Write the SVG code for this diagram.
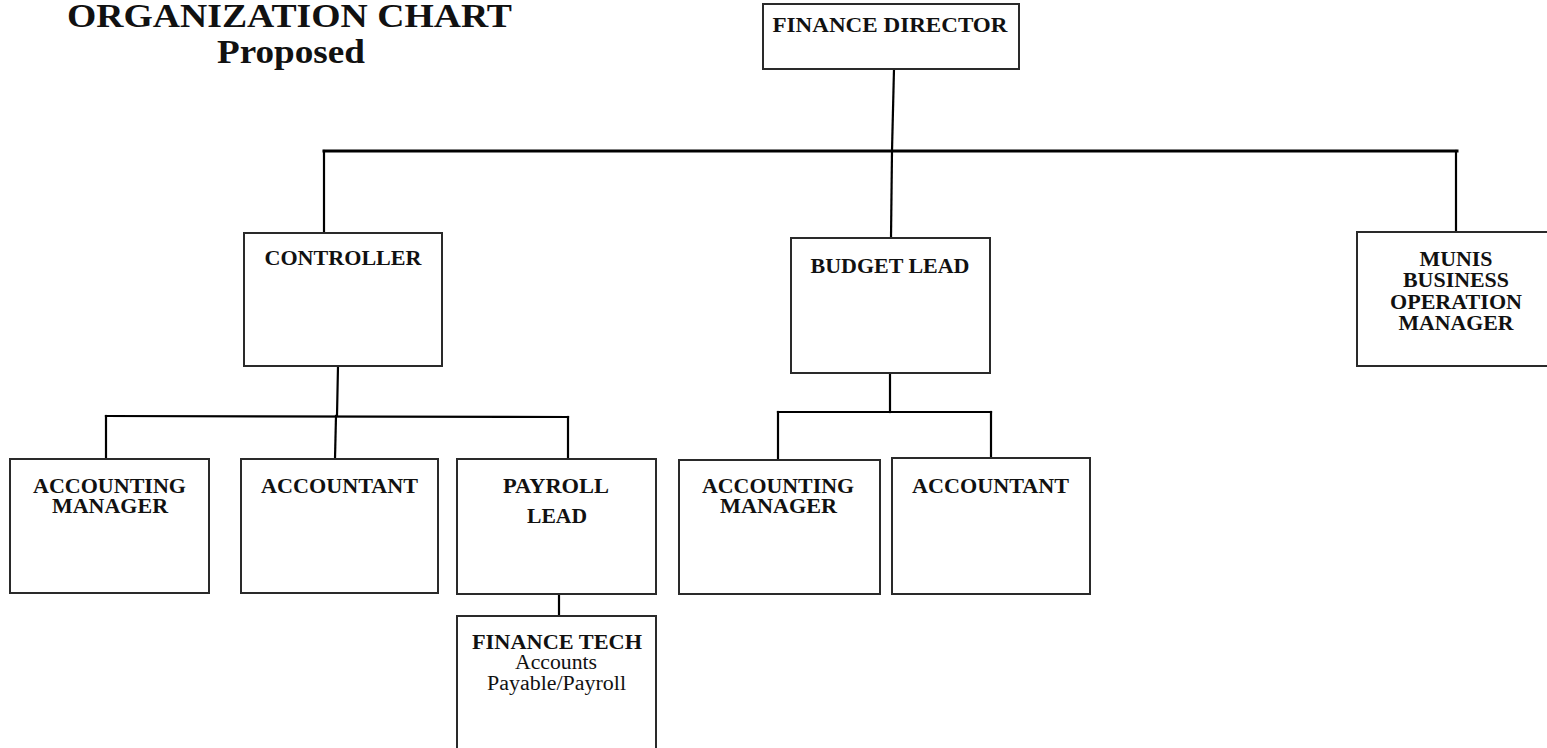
<svg xmlns="http://www.w3.org/2000/svg" width="1547" height="748" viewBox="0 0 1547 748">
<style>
.box{fill:#fff;stroke:#2a2a2a;stroke-width:2}
.t{font-family:"Liberation Serif","Times New Roman",serif;font-weight:bold;font-size:20px;fill:#111;text-anchor:middle}
.r{font-weight:normal}
.title{font-size:33px}
.c{fill:none;stroke:#000;stroke-width:2.2;stroke-linecap:square}
.bus{stroke-width:3}
</style>
<rect width="1547" height="748" fill="#fff"/>
<g id="title">
<text class="t title" x="289.5" y="27" textLength="445" lengthAdjust="spacingAndGlyphs">ORGANIZATION CHART</text>
<text class="t title" x="291" y="63" textLength="148" lengthAdjust="spacingAndGlyphs">Proposed</text>
</g>
<g id="connectors">
<path class="c" d="M894,69 L892,151"/>
<path class="c bus" d="M324,151 L1457,151"/>
<path class="c" d="M324,151 L324,233"/>
<path class="c" d="M892,151 L891,238"/>
<path class="c" d="M1456,151 L1456,232"/>
<path class="c" d="M338,366 L337,416"/>
<path class="c" d="M106,416 L568,417"/>
<path class="c" d="M106,416 L106,459"/>
<path class="c" d="M336,416 L335,459"/>
<path class="c" d="M568,417 L568,459"/>
<path class="c" d="M890,373 L890,412"/>
<path class="c" d="M778,412 L991,412"/>
<path class="c" d="M778,412 L778,460"/>
<path class="c" d="M991,412 L991,458"/>
<path class="c" d="M559,594 L559,616"/>
</g>
<g id="finance-director">
<rect class="box" x="763" y="4" width="256" height="65"/>
<text class="t" x="890" y="32" textLength="235" lengthAdjust="spacingAndGlyphs">FINANCE DIRECTOR</text>
</g>
<g id="controller">
<rect class="box" x="244" y="233" width="198" height="133"/>
<text class="t" x="343" y="265" textLength="157" lengthAdjust="spacingAndGlyphs">CONTROLLER</text>
</g>
<g id="budget-lead">
<rect class="box" x="791" y="238" width="199" height="135"/>
<text class="t" x="890" y="273" textLength="159" lengthAdjust="spacingAndGlyphs">BUDGET LEAD</text>
</g>
<g id="munis">
<rect class="box" x="1357" y="232" width="200" height="134"/>
<text class="t" x="1456" y="266" textLength="73" lengthAdjust="spacingAndGlyphs">MUNIS</text>
<text class="t" x="1456" y="287" textLength="106" lengthAdjust="spacingAndGlyphs">BUSINESS</text>
<text class="t" x="1456" y="309" textLength="132" lengthAdjust="spacingAndGlyphs">OPERATION</text>
<text class="t" x="1456" y="330" textLength="115" lengthAdjust="spacingAndGlyphs">MANAGER</text>
</g>
<g id="accounting-manager-1">
<rect class="box" x="10" y="459" width="199" height="134"/>
<text class="t" x="109.5" y="493" textLength="153" lengthAdjust="spacingAndGlyphs">ACCOUNTING</text>
<text class="t" x="110" y="513" textLength="116" lengthAdjust="spacingAndGlyphs">MANAGER</text>
</g>
<g id="accountant-1">
<rect class="box" x="241" y="459" width="197" height="134"/>
<text class="t" x="339.5" y="493" textLength="157" lengthAdjust="spacingAndGlyphs">ACCOUNTANT</text>
</g>
<g id="payroll-lead">
<rect class="box" x="457" y="459" width="199" height="135"/>
<text class="t" x="556" y="493" textLength="106" lengthAdjust="spacingAndGlyphs">PAYROLL</text>
<text class="t" x="557" y="523" textLength="60" lengthAdjust="spacingAndGlyphs">LEAD</text>
</g>
<g id="finance-tech">
<rect class="box" x="457" y="616" width="199" height="150"/>
<text class="t" x="557" y="649" textLength="170" lengthAdjust="spacingAndGlyphs">FINANCE TECH</text>
<text class="t r" x="556" y="669" textLength="82" lengthAdjust="spacingAndGlyphs">Accounts</text>
<text class="t r" x="556.5" y="690" textLength="139" lengthAdjust="spacingAndGlyphs">Payable/Payroll</text>
</g>
<g id="accounting-manager-2">
<rect class="box" x="679" y="460" width="201" height="134"/>
<text class="t" x="778" y="493" textLength="152" lengthAdjust="spacingAndGlyphs">ACCOUNTING</text>
<text class="t" x="778.5" y="513" textLength="117" lengthAdjust="spacingAndGlyphs">MANAGER</text>
</g>
<g id="accountant-2">
<rect class="box" x="892" y="458" width="198" height="136"/>
<text class="t" x="990.5" y="493" textLength="157" lengthAdjust="spacingAndGlyphs">ACCOUNTANT</text>
</g>
</svg>
